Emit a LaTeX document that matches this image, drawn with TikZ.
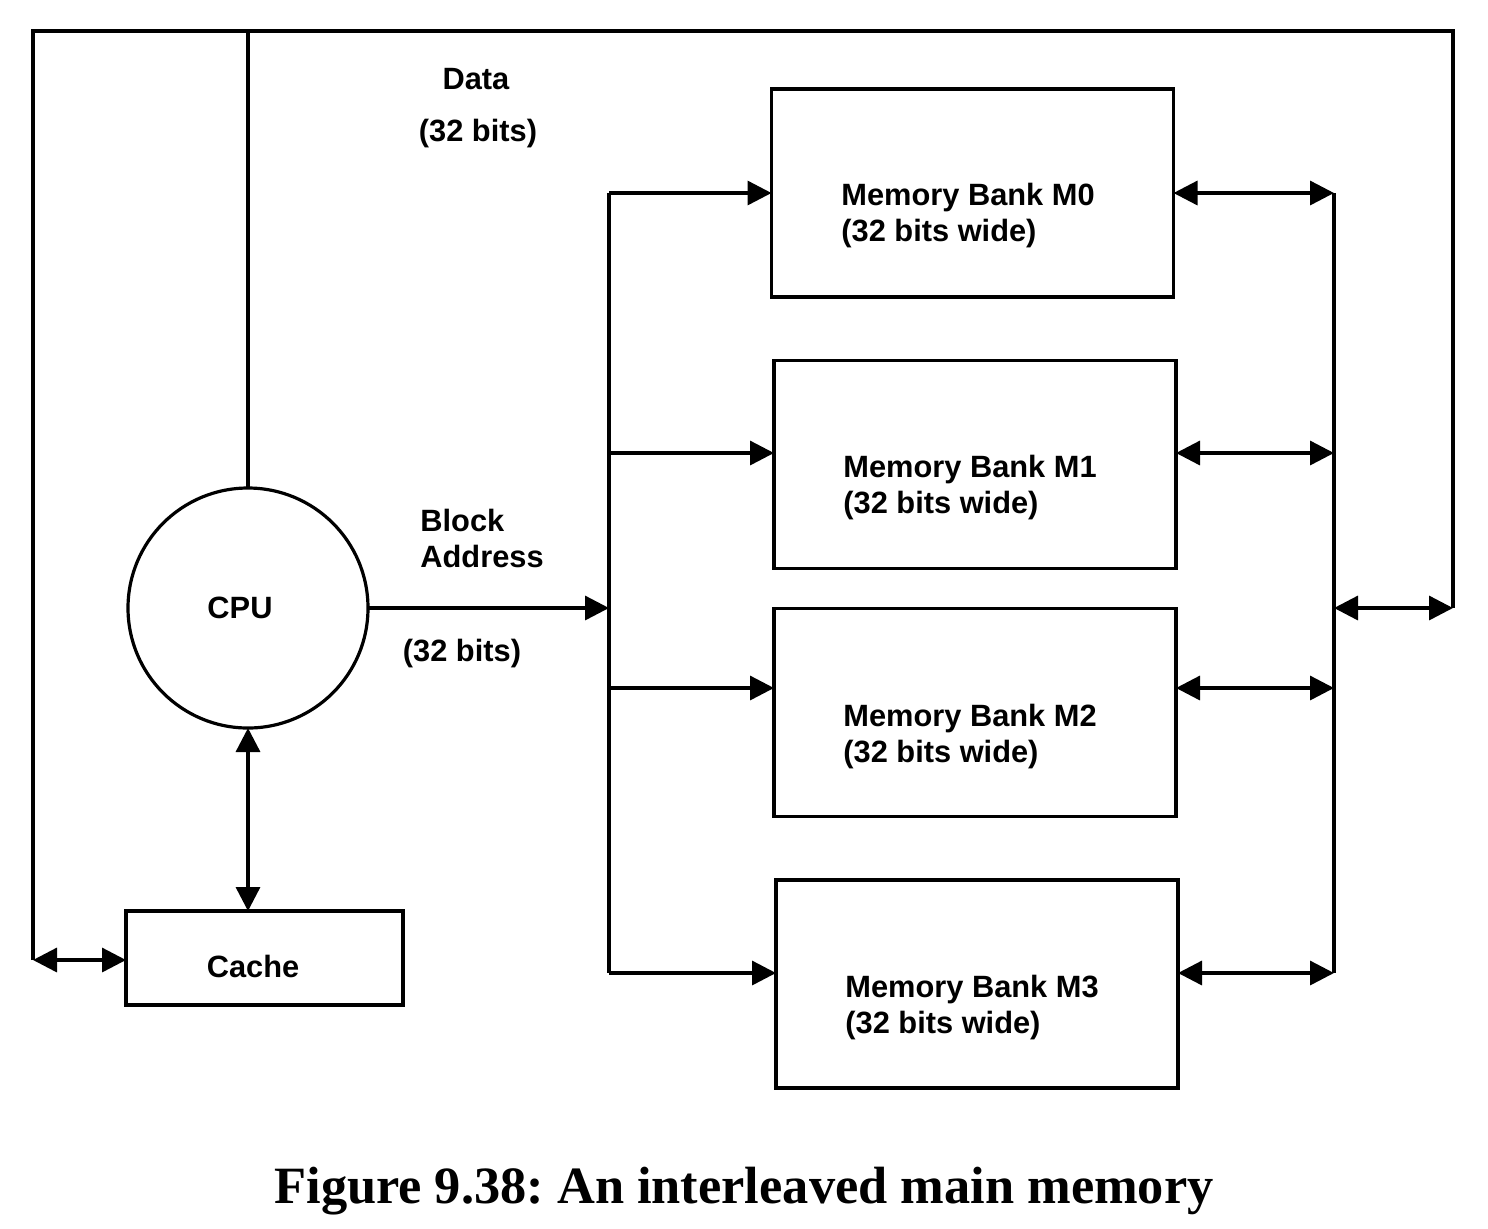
\documentclass[tikz,border=0pt]{standalone}
\usepackage{fontspec}
\setsansfont{Liberation Sans}
\newfontfamily\capfont{Liberation Serif}
\usetikzlibrary{arrows.meta}
\frenchspacing
\begin{document}
\begin{tikzpicture}[x=0.5pt,y=-0.5pt,
  wire/.style={line width=1.7pt},
  arr/.style={wire,-{Triangle[length=12pt,width=12pt]}},
  darr/.style={wire,{Triangle[length=12pt,width=12pt]}-{Triangle[length=12pt,width=12pt]}},
  bank/.style={draw,line width=1.8pt,minimum width=201pt,minimum height=104pt,inner sep=0pt,outer sep=0pt},
  lbl/.style={font=\sffamily\bfseries\fontsize{15.4}{18}\selectfont,inner sep=0pt},
  banklbl/.style={lbl,anchor=west,align=left}]
\useasboundingbox (0,0) rectangle (1488,1228);
% blocks
\node[draw,circle,line width=1.6pt,minimum size=120pt,inner sep=0pt,outer sep=0pt] (cpu) at (248,608) {};
\node[lbl] (cputxt) at (240,608) {CPU};
\node[draw,line width=1.8pt,minimum width=138.5pt,minimum height=47pt,inner sep=0pt,outer sep=0pt] (cache) at (264.5,958) {};
\node[lbl] (cachetxt) at (253,966) {Cache};
\node[bank] (m0) at (972.5,193) {};
\node[bank] (m1) at (975,464.5) {};
\node[bank] (m2) at (975,712.5) {};
\node[bank] (m3) at (977,984) {};
\node[banklbl] (m0t) at (841,216) {Memory Bank M0\\(32 bits wide)};
\node[banklbl] (m1t) at (843,488) {Memory Bank M1\\(32 bits wide)};
\node[banklbl] (m2t) at (843,737) {Memory Bank M2\\(32 bits wide)};
\node[banklbl] (m3t) at (845,1008) {Memory Bank M3\\(32 bits wide)};
% labels
\node[lbl] (data) at (476,79) {Data};
\node[lbl] (data32) at (478,134) {(32 bits)};
\node[lbl,anchor=west,align=left] (baddr) at (420,538) {Block\\Address};
\node[lbl] (addr32) at (462,654) {(32 bits)};
\node[font=\capfont\bfseries\fontsize{26.2}{30}\selectfont,inner sep=0pt] (cap) at (744,1191) {Figure 9.38: An interleaved main memory};
% coordinates
\coordinate (tl) at (33,31);
\coordinate (tr) at (1453,31);
\coordinate (lb) at (33,960);
\coordinate (b0) at (609,193);
\coordinate (b1) at (609,453);
\coordinate (b2) at (609,688);
\coordinate (b3) at (609,973);
\coordinate (r0) at (1334,193);
\coordinate (r1) at (1334,453);
\coordinate (r2) at (1334,688);
\coordinate (r3) at (1334,973);
\coordinate (rm) at (1334,608);
\coordinate (rr) at (1453,608);
% data bus
\draw[wire,line join=miter] (lb) -- (tl) -- (tr) -- (rr);
\draw[wire] (cpu.north) -- (cpu.north |- tl);
\draw[darr] (lb) -- (cache.west |- lb);
\draw[darr] (cpu.south) -- (cpu.south |- cache.north);
\draw[darr] (rm) -- (rr);
% address bus
\draw[arr] (cpu.east) -- (b0 |- cpu.east);
\draw[wire] (b0) -- (b3);
\draw[arr] (b0) -- (b0 -| m0.west);
\draw[arr] (b1) -- (b1 -| m1.west);
\draw[arr] (b2) -- (b2 -| m2.west);
\draw[arr] (b3) -- (b3 -| m3.west);
% right bus
\draw[wire] (r0) -- (r3);
\draw[darr] (r0 -| m0.east) -- (r0);
\draw[darr] (r1 -| m1.east) -- (r1);
\draw[darr] (r2 -| m2.east) -- (r2);
\draw[darr] (r3 -| m3.east) -- (r3);
\end{tikzpicture}
\end{document}
